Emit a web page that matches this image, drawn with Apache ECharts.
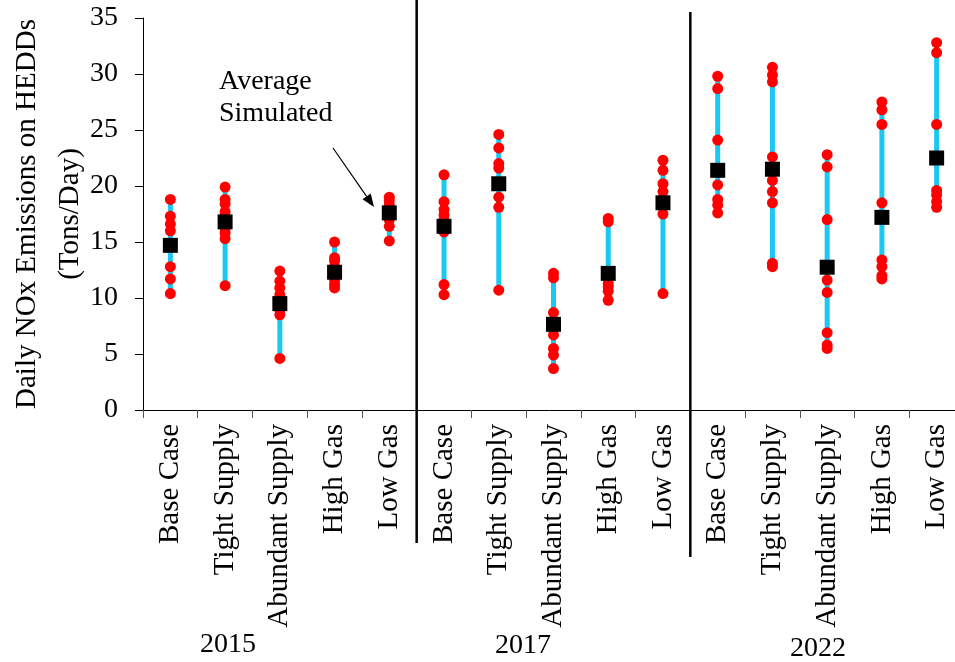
<!DOCTYPE html>
<html>
<head>
<meta charset="utf-8">
<script src="https://cdn.jsdelivr.net/npm/echarts@6/dist/echarts.min.js"></script>
<style>
html,body{margin:0;padding:0;background:#fff;}
#chart{width:955px;height:662px;}
</style>
</head>
<body>
<div id="chart"></div>
<script>
const scenarios = ['Base Case', 'Tight Supply', 'Abundant Supply', 'High Gas', 'Low Gas'];
const years = ['2015', '2017', '2022'];
const categories = [].concat(scenarios, scenarios, scenarios);

// Individual simulated values (red dots), one list per category
const simulated = [
  [18.8, 17.3, 16.6, 16.0, 12.8, 11.7, 10.4],
  [19.9, 18.8, 18.4, 17.7, 17.2, 16.2, 15.8, 15.3, 11.1],
  [12.4, 11.5, 10.9, 10.3, 8.9, 8.5, 4.6],
  [15.0, 13.6, 13.3, 12.8, 11.6, 11.2, 10.9],
  [19.0, 18.7, 18.3, 17.0, 16.4, 15.1],
  [21.0, 18.6, 17.9, 17.4, 17.0, 15.9, 11.2, 10.3],
  [24.6, 23.4, 22.0, 21.6, 19.0, 18.1, 10.7],
  [12.2, 11.8, 8.7, 6.7, 5.5, 4.9, 3.7],
  [17.1, 16.8, 11.3, 11.0, 10.6, 9.8],
  [22.3, 21.4, 20.2, 19.5, 17.5, 10.4],
  [29.8, 28.7, 24.1, 20.1, 18.8, 18.3, 17.6],
  [30.6, 29.9, 29.3, 22.6, 20.5, 19.5, 18.5, 13.1, 12.8],
  [22.8, 21.7, 17.0, 11.6, 10.5, 6.9, 5.8, 5.5],
  [27.5, 26.8, 25.5, 18.5, 13.4, 12.8, 12.0, 11.7],
  [32.8, 31.9, 25.5, 19.6, 19.2, 18.6, 18.1]
];
// Average simulated (black squares)
const averages = [14.7, 16.8, 9.5, 12.3, 17.6, 16.4, 20.2, 7.65, 12.2, 18.5, 21.4, 21.5, 12.75, 17.2, 22.5];

const FONT = '"Liberation Serif", "Times New Roman", serif';

const rangeData = simulated.map((vals, i) => [i, Math.min.apply(null, vals), Math.max.apply(null, vals)]);
const dotData = [];
simulated.forEach((vals, i) => vals.forEach(v => dotData.push([i, v])));
const avgData = averages.map((v, i) => [i, v]);

const chart = echarts.init(document.getElementById('chart'), null, {renderer: 'canvas'});

const option = {
  animation: false,
  backgroundColor: '#ffffff',
  grid: {left: 143, top: 18, right: -9, bottom: 252, containLabel: false, outerBoundsMode: 'none'},
  xAxis: {
    type: 'category',
    data: categories,
    boundaryGap: true,
    axisLine: {show: true, lineStyle: {color: '#000', width: 1}},
    axisTick: {show: true, length: 8, lineStyle: {color: '#555'}},
    axisLabel: {
      interval: 0, rotate: 90, margin: 14,
      fontFamily: FONT, fontSize: 29, color: '#000'
    },
    splitLine: {show: false}
  },
  yAxis: {
    type: 'value',
    min: 0, max: 35, interval: 5,
    name: 'Daily NOx Emissions on HEDDs\n(Tons/Day)',
    nameLocation: 'middle',
    nameRotate: 90,
    nameGap: 51,
    nameMoveOverlap: false,
    nameTextStyle: {fontFamily: FONT, fontSize: 29, color: '#000', lineHeight: 43},
    axisLine: {show: true, lineStyle: {color: '#000', width: 1}},
    axisTick: {show: true, inside: false, length: 8, lineStyle: {color: '#000'}},
    axisLabel: {fontFamily: FONT, fontSize: 28, color: '#000', margin: 25},
    splitLine: {show: false}
  },
  series: [
    {
      type: 'custom',
      z: 1,
      data: rangeData,
      encode: {x: 0, y: [1, 2]},
      renderItem: function (params, api) {
        const x = api.value(0);
        const lo = api.coord([x, api.value(1)]);
        const hi = api.coord([x, api.value(2)]);
        return {
          type: 'line',
          shape: {x1: lo[0], y1: lo[1], x2: hi[0], y2: hi[1]},
          style: {stroke: '#1AC8F2', lineWidth: 5}
        };
      }
    },
    {
      type: 'scatter',
      z: 2,
      data: dotData,
      symbol: 'circle',
      symbolSize: 11,
      itemStyle: {color: '#FF0000', opacity: 1}
    },
    {
      type: 'scatter',
      z: 3,
      data: avgData,
      symbol: 'rect',
      symbolSize: 15,
      itemStyle: {color: '#000000', opacity: 1}
    }
  ]
};
chart.setOption(option);

// Group separators and year labels
const px = i => chart.convertToPixel({xAxisIndex: 0}, i);
const sep1 = (px(4) + px(5)) / 2;
const sep2 = (px(9) + px(10)) / 2;

// arrow head
const ax1 = 333, ay1 = 148, ax2 = 374, ay2 = 207;
const ang = Math.atan2(ay2 - ay1, ax2 - ax1);
const hl = 13, hw = 5;
const bx = ax2 - hl * Math.cos(ang), by = ay2 - hl * Math.sin(ang);
const head = [
  [ax2, ay2],
  [bx + hw * Math.sin(ang), by - hw * Math.cos(ang)],
  [bx - hw * Math.sin(ang), by + hw * Math.cos(ang)]
];

chart.setOption({
  graphic: [
    {type: 'line', shape: {x1: sep1, y1: 0, x2: sep1, y2: 543}, style: {stroke: '#000', lineWidth: 2.5}, z: 10},
    {type: 'line', shape: {x1: sep2, y1: 12, x2: sep2, y2: 557}, style: {stroke: '#000', lineWidth: 2.5}, z: 10},
    {type: 'text', x: 228, y: 645, style: {text: years[0], font: '28px ' + FONT, fill: '#000', align: 'center', verticalAlign: 'middle'}},
    {type: 'text', x: 523, y: 646, style: {text: years[1], font: '28px ' + FONT, fill: '#000', align: 'center', verticalAlign: 'middle'}},
    {type: 'text', x: 818, y: 649, style: {text: years[2], font: '28px ' + FONT, fill: '#000', align: 'center', verticalAlign: 'middle'}},
    {type: 'text', x: 219, y: 96, style: {text: 'Average', font: '28px ' + FONT, fill: '#000', align: 'left', verticalAlign: 'bottom'}},
    {type: 'text', x: 219, y: 128, style: {text: 'Simulated', font: '28px ' + FONT, fill: '#000', align: 'left', verticalAlign: 'bottom'}},
    {type: 'line', shape: {x1: ax1, y1: ay1, x2: bx, y2: by}, style: {stroke: '#000', lineWidth: 1.2}},
    {type: 'polygon', shape: {points: head}, style: {fill: '#000'}}
  ]
});
</script>
</body>
</html>
